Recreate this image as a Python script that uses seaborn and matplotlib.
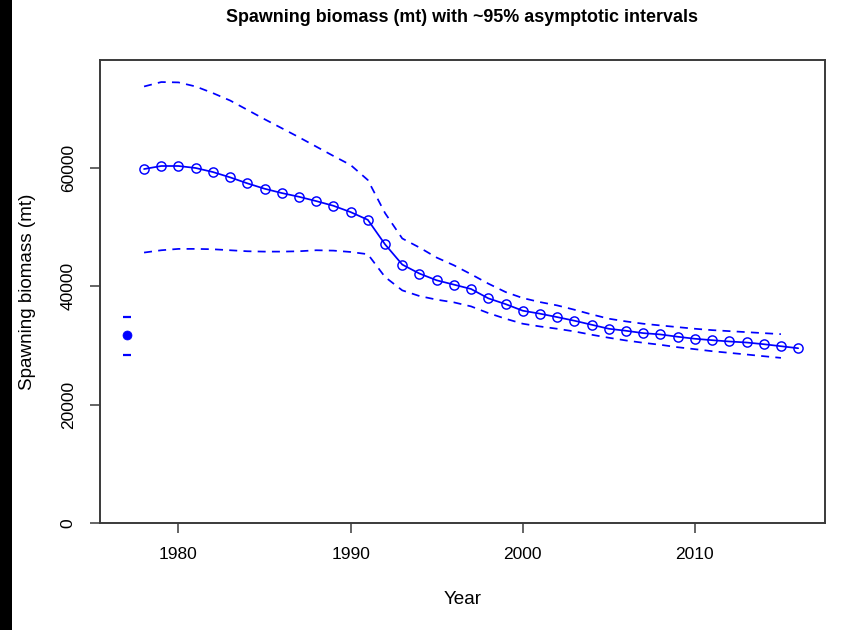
import numpy as np
import pandas as pd
import matplotlib
matplotlib.use("Agg")
import matplotlib.pyplot as plt
from matplotlib.patches import Rectangle
import seaborn as sns

# Spawning biomass estimates (mt) by year
years = list(range(1978, 2017))
biomass = [59830, 60340, 60340, 60000, 59320, 58420, 57410, 56500, 55770, 55140,
           54410, 53620, 52550, 51240, 47100, 43680, 42160, 41020, 40290, 39550,
           37970, 37000, 35880, 35380, 34800, 34190, 33510, 32830, 32490, 32090,
           31870, 31480, 31140, 30900, 30680, 30510, 30220, 29880, 29540]

# ~95% asymptotic interval bounds (available through 2015)
ci_years = list(range(1978, 2016))
upper = [73780, 74530, 74470, 73780, 72660, 71410, 69830, 68250, 66730, 65200,
         63620, 62040, 60510, 57970, 52380, 48090, 46560, 44860, 43560, 42040,
         40460, 39040, 38020, 37340, 36780, 36050, 35260, 34530, 34070, 33680,
         33390, 33110, 32830, 32600, 32430, 32260, 32090, 31920]
lower = [45710, 46100, 46330, 46330, 46270, 46100, 45930, 45870, 45870, 45930,
         46100, 46040, 45810, 45430, 41580, 39320, 38360, 37750, 37290, 36610,
         35480, 34530, 33680, 33220, 32830, 32380, 31820, 31310, 30850, 30460,
         30120, 29710, 29380, 29040, 28760, 28480, 28190, 27910]

# Unfished (virgin) spawning biomass with its interval
virgin_year = [1977]
virgin_value = [31700]
virgin_lower = [28360]
virgin_upper = [34750]

ts = pd.DataFrame({"Year": years, "SSB": biomass})
ci = pd.DataFrame({"Year": ci_years, "lower": lower, "upper": upper})
virgin = pd.DataFrame({"Year": virgin_year, "SSB": virgin_value,
                       "lo": virgin_lower, "hi": virgin_upper})

sns.set_theme(style="white")
plt.rcParams["font.family"] = ["Liberation Sans", "DejaVu Sans"]
plt.rcParams["text.color"] = "black"
plt.rcParams["axes.labelcolor"] = "black"

fig = plt.figure(figsize=(8.56, 6.30), dpi=100)
ax = fig.add_axes([100 / 856, 1 - 523 / 630, 725 / 856, 463 / 630])

blue = "#0000FF"
dash = (4.6, 3.6)

sns.lineplot(data=ci, x="Year", y="upper", ax=ax, color=blue, lw=1.25,
             dashes=False, linestyle=(0, dash))
sns.lineplot(data=ci, x="Year", y="lower", ax=ax, color=blue, lw=1.25,
             dashes=False, linestyle=(0, dash))
sns.lineplot(data=ts, x="Year", y="SSB", ax=ax, color=blue, lw=1.25,
             marker="o", markersize=6.6, markerfacecolor="none",
             markeredgecolor=blue, markeredgewidth=1.05)

sns.scatterplot(data=virgin, x="Year", y="SSB", ax=ax, color=blue, s=42,
                edgecolor=blue, linewidth=0.5, zorder=4)
sns.scatterplot(data=virgin, x="Year", y="lo", ax=ax, color=blue, marker="_",
                s=30, linewidth=1.6)
sns.scatterplot(data=virgin, x="Year", y="hi", ax=ax, color=blue, marker="_",
                s=30, linewidth=1.6)

x0, x1 = 1977, 2016
pad = 0.04 * (x1 - x0)
ax.set_xlim(x0 - pad, x1 + pad)
ax.set_ylim(0, 1.05 * max(upper))

ax.set_xticks([1980, 1990, 2000, 2010])
ax.set_yticks([0, 20000, 40000, 60000])
ax.set_yticklabels(["0", "20000", "40000", "60000"], rotation=90, va="center")

frame = "#3a3a3a"
for s in ax.spines.values():
    s.set_color(frame)
    s.set_linewidth(1.4)
ax.tick_params(axis="both", which="major", length=7, width=1.1, color=frame,
               pad=10.5, labelsize=12.5, labelcolor="black",
               bottom=True, left=True, direction="out")

ax.set_xlabel("Year", fontsize=13.6, va="center", color="black")
ax.set_ylabel("Spawning biomass (mt)", fontsize=13.6, va="center", color="black")
ax.xaxis.set_label_coords(0.5, (523 - 600) / 463)
ax.yaxis.set_label_coords((28 - 100) / 725, 0.5)

fig.text(462 / 856, 1 - 18 / 630,
         "Spawning biomass (mt) with ~95% asymptotic intervals",
         ha="center", va="center", fontsize=12.9, fontweight="bold",
         color="black")

# dark strip along the left edge
fig.patches.append(Rectangle((0, 0), 12 / 856, 1, transform=fig.transFigure,
                             facecolor="black", edgecolor="none", zorder=10))

fig.savefig("out.png", dpi=100, facecolor="white")
